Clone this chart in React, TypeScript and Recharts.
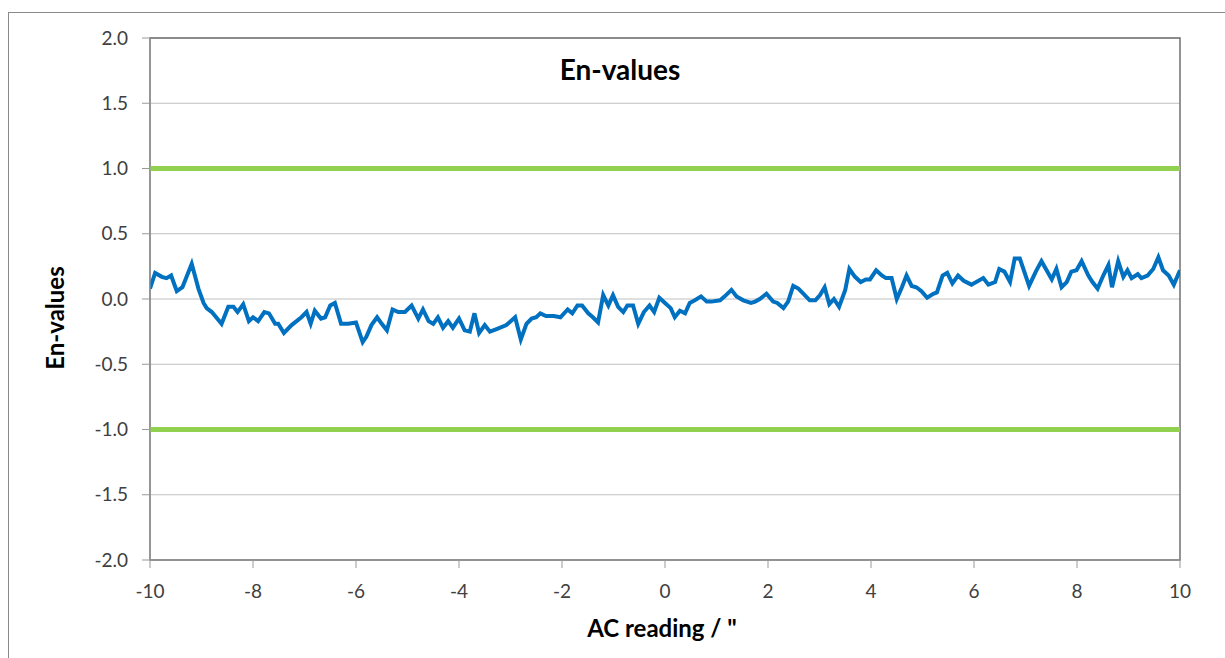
import { LineChart, Line, XAxis, YAxis, CartesianGrid, ReferenceLine, ReferenceArea } from "recharts";

// AC reading (") at each vertex of the En curve
const acReading = [
  -10.0, -9.9, -9.77, -9.68, -9.59, -9.48, -9.37, -9.19, -9.06, -8.96, -8.9, -8.8, -8.61, -8.48, -8.38, -8.3,
  -8.19, -8.08, -8.0, -7.9, -7.78, -7.69, -7.57, -7.51, -7.4, -7.25, -7.06, -6.96, -6.88, -6.8, -6.68, -6.6,
  -6.5, -6.41, -6.29, -6.15, -6.0,
  -5.87, -5.8, -5.7, -5.59, -5.5, -5.4, -5.29, -5.18, -5.05, -4.92, -4.79, -4.7, -4.59, -4.5, -4.41, -4.31,
  -4.21, -4.12, -4.0, -3.89, -3.79, -3.7, -3.61, -3.5, -3.4, -3.27, -3.08, -2.91, -2.8, -2.69, -2.59, -2.5,
  -2.42, -2.31, -2.16, -2.03,
  -1.89, -1.8, -1.7, -1.61, -1.49, -1.4, -1.3, -1.2, -1.1, -1.01, -0.91, -0.81, -0.73, -0.62, -0.52, -0.41,
  -0.3, -0.21, -0.11, 0.0, 0.11, 0.19, 0.29, 0.39, 0.48, 0.58, 0.7, 0.81, 0.9, 1.07, 1.16, 1.29, 1.39, 1.52,
  1.67, 1.75, 1.84, 1.97,
  2.1, 2.18, 2.3, 2.39, 2.49, 2.59, 2.69, 2.81, 2.92, 3.01, 3.1, 3.19, 3.28, 3.38, 3.5, 3.58, 3.69, 3.8,
  3.9, 3.98, 4.1, 4.21, 4.29, 4.4, 4.5, 4.6, 4.69, 4.79, 4.88, 4.98, 5.09, 5.21, 5.28, 5.39, 5.48, 5.58,
  5.69, 5.8, 5.95,
  6.18, 6.28, 6.41, 6.49, 6.59, 6.7, 6.79, 6.89, 7.07, 7.2, 7.31, 7.41, 7.51, 7.6, 7.7, 7.8, 7.89, 7.99,
  8.09, 8.22, 8.3, 8.4, 8.51, 8.61, 8.68, 8.8, 8.9, 8.98, 9.06, 9.18, 9.25, 9.37, 9.48, 9.58, 9.67, 9.78,
  9.88, 10.0,
];

const enValues = [
  0.08, 0.2, 0.17, 0.16, 0.18, 0.06, 0.09, 0.27, 0.08, -0.03, -0.07, -0.1, -0.19, -0.06, -0.06, -0.1,
  -0.04, -0.17, -0.14, -0.17, -0.1, -0.11, -0.19, -0.19, -0.26, -0.2, -0.14, -0.1, -0.19, -0.09, -0.15, -0.14,
  -0.05, -0.03, -0.19, -0.19, -0.18,
  -0.33, -0.29, -0.2, -0.14, -0.19, -0.24, -0.08, -0.1, -0.1, -0.05, -0.15, -0.08, -0.17, -0.19, -0.14, -0.22,
  -0.17, -0.22, -0.15, -0.24, -0.25, -0.11, -0.26, -0.2, -0.25, -0.23, -0.2, -0.14, -0.31, -0.19, -0.15, -0.14,
  -0.11, -0.13, -0.13, -0.14,
  -0.08, -0.11, -0.05, -0.05, -0.11, -0.14, -0.18, 0.03, -0.05, 0.03, -0.06, -0.1, -0.05, -0.05, -0.19, -0.1,
  -0.05, -0.1, 0.01, -0.03, -0.07, -0.14, -0.09, -0.11, -0.03, -0.01, 0.02, -0.02, -0.02, -0.01, 0.02, 0.07, 0.02, -0.01,
  -0.03, -0.02, 0.0, 0.04,
  -0.02, -0.03, -0.07, -0.02, 0.1, 0.08, 0.04, -0.01, -0.01, 0.03, 0.09, -0.04, 0.0, -0.06, 0.07, 0.23, 0.17, 0.13,
  0.15, 0.15, 0.22, 0.18, 0.16, 0.16, 0.0, 0.09, 0.18, 0.1, 0.09, 0.06, 0.01, 0.04, 0.05, 0.18, 0.2, 0.12,
  0.18, 0.14, 0.11,
  0.16, 0.11, 0.13, 0.23, 0.21, 0.13, 0.31, 0.31, 0.1, 0.21, 0.29, 0.22, 0.15, 0.23, 0.09, 0.13, 0.21, 0.22,
  0.29, 0.18, 0.13, 0.08, 0.18, 0.26, 0.09, 0.29, 0.17, 0.22, 0.16, 0.19, 0.16, 0.18, 0.23, 0.32, 0.22, 0.18,
  0.11, 0.22,
];

const limits = [1, -1];
const xTicks = [-10, -8, -6, -4, -2, 0, 2, 4, 6, 8, 10];
const yTicks = [-2, -1.5, -1, -0.5, 0, 0.5, 1, 1.5, 2];

const data = acReading.map((x, i) => ({ x, en: enValues[i] }));

const FONT = "Lato, 'Open Sans', sans-serif";
const tickStyle = { fontSize: 19, fill: "#404040", fontFamily: FONT };

export default function App() {
  return (
    <div style={{ position: "fixed", left: 0, top: 0, width: 1225, height: 658, overflow: "hidden", background: "#fff" }}>
      <div
        style={{
          position: "absolute",
          left: 8,
          top: 12,
          width: 1240,
          height: 700,
          border: "1px solid #8a8a8a",
          boxSizing: "border-box",
        }}
      />
      <div style={{ position: "absolute", left: 0, top: 0 }}>
        <LineChart width={1225} height={658} data={data} margin={{ top: 38, right: 45, left: 0, bottom: 0 }}>
          <CartesianGrid vertical={false} stroke="#c0c0c0" strokeWidth={1} />
          <ReferenceArea x1={-10} x2={10} y1={-2} y2={2} fill="none" stroke="#707070" strokeWidth={1.5} />
          <XAxis
            dataKey="x"
            type="number"
            domain={[-10, 10]}
            ticks={xTicks}
            allowDataOverflow
            height={98}
            tickSize={8}
            tickMargin={17}
            tick={tickStyle}
            stroke="#999"
            tickLine={{ stroke: "#999" }}
          />
          <YAxis
            type="number"
            domain={[-2, 2]}
            ticks={yTicks}
            width={150}
            tickSize={8}
            tickMargin={14}
            tick={tickStyle}
            tickFormatter={(v: number) => v.toFixed(1)}
            stroke="#999"
            tickLine={{ stroke: "#999" }}
          />
          {limits.map((v) => (
            <ReferenceLine key={v} y={v} stroke="#92d050" strokeWidth={5} />
          ))}
          <Line
            type="linear"
            dataKey="en"
            stroke="#0070c0"
            strokeWidth={4}
            dot={false}
            isAnimationActive={false}
          />
        </LineChart>
      </div>
      <div
        style={{
          position: "absolute",
          left: 470,
          width: 300,
          top: 55,
          textAlign: "center",
          fontFamily: FONT,
          fontWeight: 700,
          fontSize: 28,
          lineHeight: "28px",
          color: "#000",
        }}
      >
        En-values
      </div>
      <div
        style={{
          position: "absolute",
          left: 55,
          top: 318,
          transform: "translate(-50%, -50%) rotate(-90deg)",
          whiteSpace: "nowrap",
          fontFamily: FONT,
          fontWeight: 700,
          fontSize: 24,
          lineHeight: "24px",
          color: "#000",
        }}
      >
        En-values
      </div>
      <div
        style={{
          position: "absolute",
          left: 512,
          width: 300,
          top: 616,
          textAlign: "center",
          fontFamily: FONT,
          fontWeight: 700,
          fontSize: 24,
          lineHeight: "24px",
          color: "#000",
        }}
      >
        AC reading / "
      </div>
    </div>
  );
}
